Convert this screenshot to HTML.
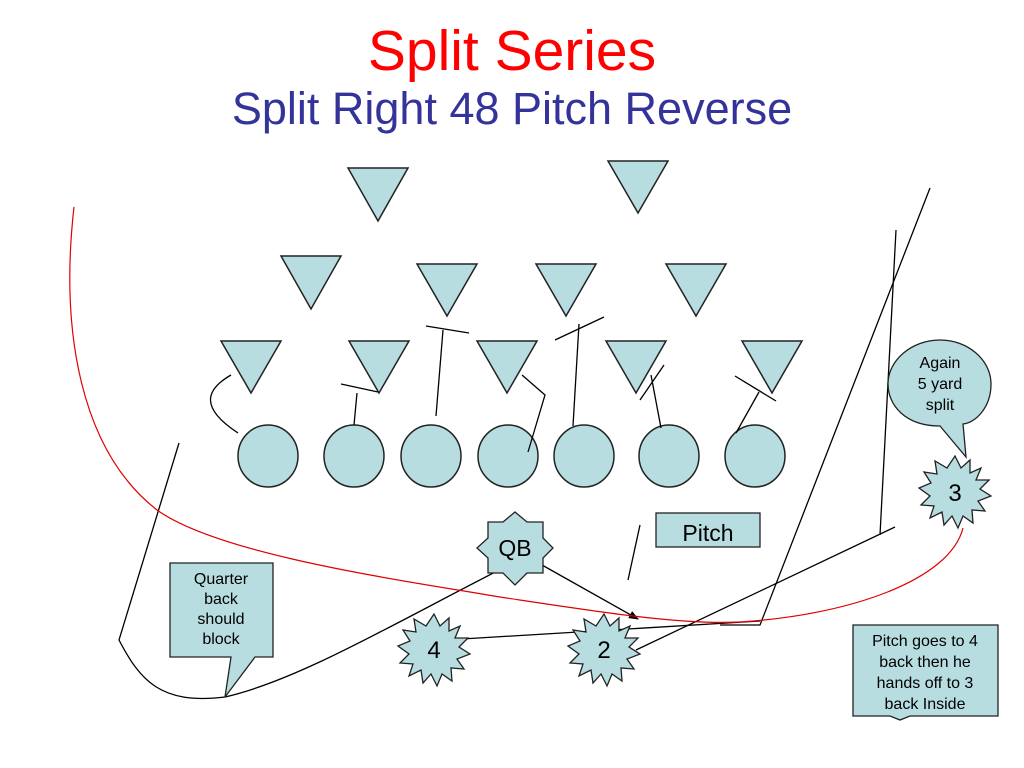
<!DOCTYPE html>
<html><head><style>
html,body{margin:0;padding:0;background:#fff;}
svg{display:block;}
text{font-family:"Liberation Sans",Arial,sans-serif;}
</style></head><body>
<svg width="1024" height="768" viewBox="0 0 1024 768" xmlns="http://www.w3.org/2000/svg">
<defs>
<marker id="ah" markerWidth="10" markerHeight="8" refX="9" refY="4" orient="auto" markerUnits="userSpaceOnUse"><path d="M0,0 L10,4 L0,8 z" fill="#000"/></marker>
</defs>
<text x="512" y="70" font-size="57" fill="#ff0000" text-anchor="middle">Split Series</text>
<text x="512" y="124" font-size="45" fill="#333399" text-anchor="middle">Split Right 48 Pitch Reverse</text>

<g fill="#b7dde0" stroke="#222" stroke-width="1.5">
<polygon points="348,168 408,168 378,221"/>
<polygon points="608,161 668,161 638,213"/>
<polygon points="281,256 341,256 311,309"/>
<polygon points="417,264 477,264 447,316"/>
<polygon points="536,264 596,264 566,316"/>
<polygon points="666,264 726,264 696,316"/>
<polygon points="221,341 281,341 251,393"/>
<polygon points="349,341 409,341 379,393"/>
<polygon points="477,341 537,341 507,393"/>
<polygon points="606,341 666,341 636,393"/>
<polygon points="742,341 802,341 772,393"/>
<ellipse cx="268" cy="456" rx="30" ry="31"/>
<ellipse cx="354" cy="456" rx="30" ry="31"/>
<ellipse cx="431" cy="456" rx="30" ry="31"/>
<ellipse cx="508" cy="456" rx="30" ry="31"/>
<ellipse cx="584" cy="456" rx="30" ry="31"/>
<ellipse cx="669" cy="456" rx="30" ry="31"/>
<ellipse cx="755" cy="456" rx="30" ry="31"/>
</g>

<g stroke="#000" stroke-width="1.3" fill="none">
<path d="M231,375 C205,390 200,408 238,433"/>
<line x1="341" y1="384" x2="378" y2="392"/>
<line x1="357" y1="393" x2="354" y2="425"/>
<line x1="426" y1="326" x2="469" y2="333"/>
<line x1="443" y1="330" x2="436" y2="416"/>
<polyline points="522,375 545,395 528,452"/>
<line x1="555" y1="340" x2="604" y2="317"/>
<line x1="579" y1="324" x2="573" y2="426"/>
<line x1="640" y1="400" x2="664" y2="365"/>
<line x1="651" y1="375" x2="661" y2="428"/>
<line x1="735" y1="376" x2="776" y2="401"/>
<line x1="759" y1="392" x2="736" y2="433"/>
<path d="M179,443 L119,640 C140,680 160,705 225,697 C300,680 400,620 513,563"/>
<line x1="542" y1="565" x2="638" y2="619" marker-end="url(#ah)"/>
<line x1="462" y1="639" x2="760" y2="621"/>
<line x1="636" y1="650" x2="895" y2="527"/>
<line x1="896" y1="230" x2="880" y2="535"/>
<path d="M930,188 L760,625 L720,625"/>
<line x1="640" y1="525" x2="628" y2="580"/>
</g>
<path d="M74,207 C60,330 80,450 157,510 C220,555 400,580 500,597 C600,612 680,625 740,622 C850,615 950,580 963,528" fill="none" stroke="#e00000" stroke-width="1.2"/>

<g fill="#b7dde0" stroke="#222" stroke-width="1.3">
<polygon points="515,512 527,522 543,522 543,538 553,548 543,558 543,573 527,573 515,585 503,573 488,573 488,558 477,548 488,538 488,522 503,522"/>
<rect x="656" y="513" width="104" height="34"/>
<path d="M170,563 L273,563 L273,657 L255,657 L225,697 L231,657 L170,657 Z"/>
<path d="M853,625 L998,625 L998,716 L910,716 L900,720 L890,716 L853,716 Z"/>
<path d="M940,426 C905,426 888,405 888,384 C888,360 912,340 940,340 C968,340 991,360 991,384 C991,408 975,423 963,424 L966,457 Z"/>
</g>
<g fill="#b7dde0" stroke="#222" stroke-width="1.3">
<polygon id="s4" transform="translate(434,650)" points="0,-36 6,-24 15,-32 15,-19 26,-24 21,-12 34,-12 25,-3 36,4 23,9 30,19 17,18 18,31 8,24 3,36 -3,24 -11,33 -13,20 -25,26 -21,14 -34,13 -25,4 -36,-4 -24,-9 -31,-20 -18,-18 -20,-31 -8,-24"/>
<use href="#s4" transform="translate(170,0)"/>
<use href="#s4" transform="translate(521,-158)"/>
</g>
<g font-size="23" fill="#000" text-anchor="middle">
<text x="515" y="556">QB</text>
<text x="708" y="541">Pitch</text>
<text x="434" y="658" font-size="24">4</text>
<text x="604" y="658" font-size="24">2</text>
<text x="955" y="501" font-size="24">3</text>
</g>
<g font-size="16" fill="#000" text-anchor="middle">
<text x="221" y="584">Quarter</text>
<text x="221" y="604">back</text>
<text x="221" y="624">should</text>
<text x="221" y="644">block</text>
<text x="940" y="368">Again</text>
<text x="940" y="389">5 yard</text>
<text x="940" y="410">split</text>
<text x="925" y="646">Pitch goes to 4</text>
<text x="925" y="667">back then he</text>
<text x="925" y="688">hands off to 3</text>
<text x="925" y="709">back Inside</text>
</g>
</svg>
</body></html>
